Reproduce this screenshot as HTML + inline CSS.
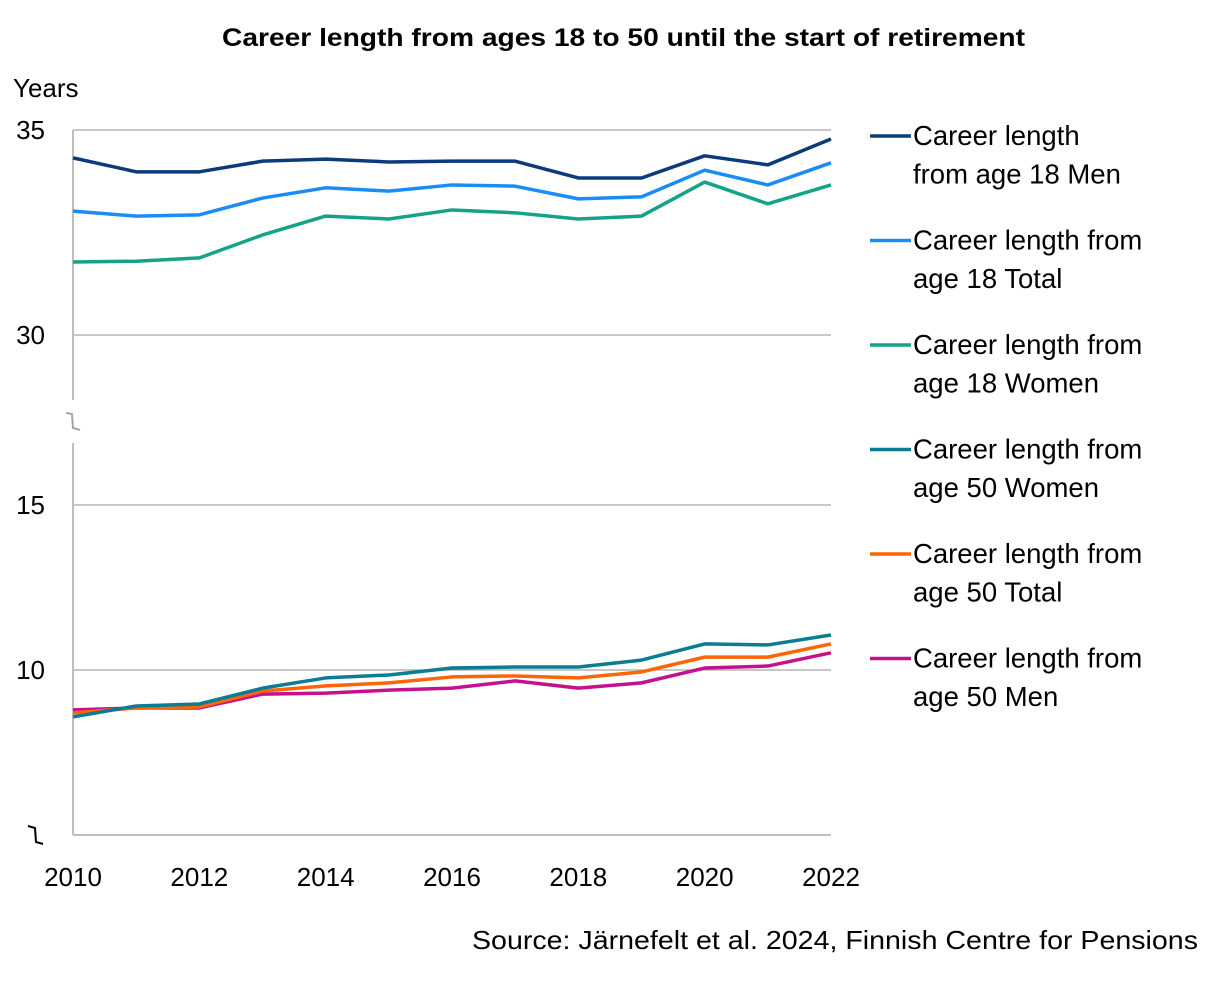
<!DOCTYPE html>
<html><head><meta charset="utf-8"><style>
body{margin:0;background:#fff;}
svg{display:block;font-family:"Liberation Sans",sans-serif;}
</style></head><body>
<svg id="chart" width="1232" height="982" xmlns="http://www.w3.org/2000/svg">
<text x="222" y="46" font-size="25" font-weight="bold" textLength="803" lengthAdjust="spacingAndGlyphs">Career length from ages 18 to 50 until the start of retirement</text>
<text x="13" y="97" font-size="26">Years</text>
<text x="472" y="949" font-size="26" textLength="726" lengthAdjust="spacingAndGlyphs">Source: Järnefelt et al. 2024, Finnish Centre for Pensions</text>
<g id="axes"></g><g id="series"></g><g id="legend"></g>
</svg>
<script>
const years=[2010,2011,2012,2013,2014,2015,2016,2017,2018,2019,2020,2021,2022];
const xTicks=[2010,2012,2014,2016,2018,2020,2022];
const upperTicks=[30,35];
const lowerTicks=[10,15];
const men18=[34.32,33.98,33.98,34.24,34.29,34.22,34.24,34.24,33.83,33.83,34.37,34.15,34.78];
const total18=[33.02,32.90,32.93,33.34,33.59,33.51,33.66,33.63,33.32,33.37,34.02,33.66,34.20];
const women18=[31.78,31.80,31.88,32.44,32.90,32.83,33.05,32.98,32.83,32.90,33.73,33.20,33.66];
const women50=[8.58,8.91,8.97,9.45,9.76,9.85,10.06,10.09,10.09,10.30,10.79,10.76,11.06];
const total50=[8.70,8.85,8.88,9.36,9.52,9.61,9.79,9.82,9.76,9.94,10.39,10.39,10.79];
const men50=[8.79,8.85,8.85,9.27,9.30,9.39,9.45,9.67,9.45,9.61,10.06,10.12,10.52];
const labels=[["Career length","from age 18 Men"],["Career length from","age 18 Total"],["Career length from","age 18 Women"],["Career length from","age 50 Women"],["Career length from","age 50 Total"],["Career length from","age 50 Men"]];
const colors=["#0b3b7c","#1a8cf5","#13a388","#0a7c93","#ff6508","#c4128f"];
const NS="http://www.w3.org/2000/svg";
const X0=73,X1=831;
const x=v=>X0+(v-2010)*(X1-X0)/12;
const yU=v=>130+(35-v)*41;
const yL=v=>670+(10-v)*33;
function mk(tag,attrs,parent){const e=document.createElementNS(NS,tag);for(const k in attrs)e.setAttribute(k,attrs[k]);parent.appendChild(e);return e;}
const ax=document.getElementById('axes');
upperTicks.forEach(t=>{
 const l=mk('line',{x1:X0,x2:X1,y1:yU(t),y2:yU(t),stroke:'#a6a6a6','stroke-width':1.3},ax);
 
 
 const tx=mk('text',{x:45,y:yU(t)+9,'text-anchor':'end','font-size':26},ax);tx.textContent=t;
 
 
});
lowerTicks.forEach(t=>{
 const l=mk('line',{x1:X0,x2:X1,y1:yL(t),y2:yL(t),stroke:'#a6a6a6','stroke-width':1.3},ax);
 
 
 const tx=mk('text',{x:45,y:yL(t)+9,'text-anchor':'end','font-size':26},ax);tx.textContent=t;
 
 
});
const a1=mk('line',{x1:X0,x2:X0,y1:130,y2:400,stroke:'#bfbfbf','stroke-width':2},ax);


const a2=mk('line',{x1:X0,x2:X0,y1:443,y2:835,stroke:'#bfbfbf','stroke-width':2},ax);


const xa=mk('line',{x1:X0,x2:X1,y1:835,y2:835,stroke:'#bfbfbf','stroke-width':2},ax);


const b1=mk('path',{d:'M66,413 L72,414 L73,428 L80,430',fill:'none',stroke:'#a6a6a6','stroke-width':2},ax);


const b2=mk('path',{d:'M28,826 L35,828 L36,842 L43,844',fill:'none',stroke:'#000','stroke-width':2},ax);


xTicks.forEach(t=>{
 const tx=mk('text',{x:x(t),y:886,'text-anchor':'middle','font-size':26},ax);tx.textContent=t;
 
 
});
const sg=document.getElementById('series');
const series=[[men18,yU],[total18,yU],[women18,yU],[women50,yL],[total50,yL],[men50,yL]];
const names=['men-18','total-18','women-18','women-50','total-50','men-50'];
[5,4,3,2,1,0].forEach(i=>{
 const [vals,yf]=series[i];
 const p=mk('polyline',{points:vals.map((v,j)=>x(years[j])+','+yf(v)).join(' '),fill:'none',stroke:colors[i],'stroke-width':3.5,'stroke-linejoin':'round'},sg);
 
 
});
const lg=document.getElementById('legend');
labels.forEach((lb,i)=>{
 const y0=136+i*104.5;
 const g=mk('g',{},lg);
 
 
 mk('line',{x1:870,x2:911,y1:y0,y2:y0,stroke:colors[i],'stroke-width':3.5},g);
 lb.forEach((s,k)=>{const t=mk('text',{x:913,y:y0+9+k*38.5,'font-size':27.5},g);t.textContent=s;});
});
</script>
</body></html>
